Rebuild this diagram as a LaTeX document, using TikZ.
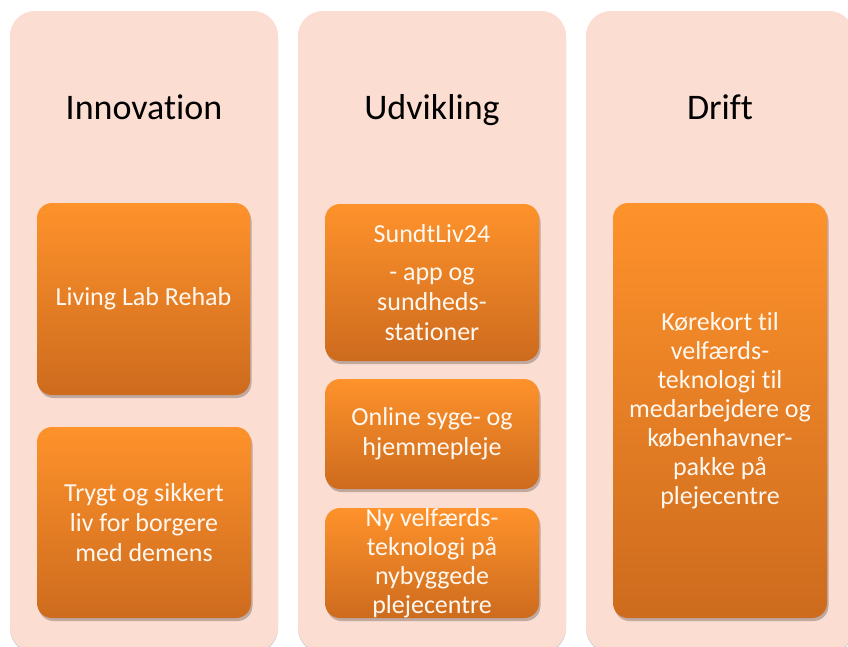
\documentclass[tikz,border=0pt]{standalone}
\usepackage{fontspec}
\setmainfont{Carlito}[Ligatures=NoCommon]
\usetikzlibrary{shadows}
\definecolor{colfill}{HTML}{FCDDD1}
\definecolor{orangetop}{HTML}{FE922B}
\definecolor{orangebot}{HTML}{CD6B1E}
\definecolor{boxtext}{HTML}{FFF8F0}
\tikzset{
  column/.style={fill=colfill, rounded corners=25pt,
    drop shadow={shadow xshift=0pt, shadow yshift=-1.5pt, opacity=0.18, fill=black}},
  coltitle/.style={font=\fontsize{36}{40}\selectfont, text=black, inner sep=0pt, anchor=base},
  itembox/.style={rectangle, rounded corners=15pt, top color=orangetop, bottom color=orangebot,
    draw=none, inner sep=0pt, text=boxtext, align=center,
    font=\fontsize{26}{30}\selectfont,
    drop shadow={shadow xshift=1.5pt, shadow yshift=-3pt, opacity=0.3, fill=black!80}}
}
\begin{document}
\begin{tikzpicture}[x=1pt,y=-1pt]
\useasboundingbox (0,0) rectangle (848,646);
\clip (0,0) rectangle (848,646);
% columns
\path[column] (10,11) rectangle (278,652);
\path[column] (298,11) rectangle (566,652);
\path[column] (586,11) rectangle (854,652);
% titles
\node[coltitle] (t1) at (144,119) {Innovation};
\node[coltitle] (t2) at (432,119) {Udvikling};
\node[coltitle] (t3) at (720,119) {Drift};
% column 1
\node[itembox, minimum width=213pt, minimum height=192pt] (b11) at (143.5,299) {Living Lab Rehab};
\node[itembox, minimum width=214pt, minimum height=191pt] (b12) at (144,522.5) {Trygt og sikkert\\liv for borgere\\med demens};
% column 2
\node[itembox, minimum width=214pt, minimum height=157pt] (b21) at (432,282.5) {SundtLiv24\\[8pt]- app og\\sundheds-\\stationer};
\node[itembox, minimum width=214pt, minimum height=110pt] (b22) at (432,434) {Online syge- og\\hjemmepleje};
\node[itembox, minimum width=214pt, minimum height=110pt, font=\fontsize{26}{29}\selectfont] (b23) at (432,563) {Ny velfærds-\\teknologi på\\nybyggede\\plejecentre};
% column 3
\node[itembox, minimum width=214pt, minimum height=415pt, font=\fontsize{26}{29}\selectfont] (b31) at (720,410.5) {Kørekort til\\velfærds-\\teknologi til\\medarbejdere og\\københavner-\\pakke på\\plejecentre};
\end{tikzpicture}
\end{document}
